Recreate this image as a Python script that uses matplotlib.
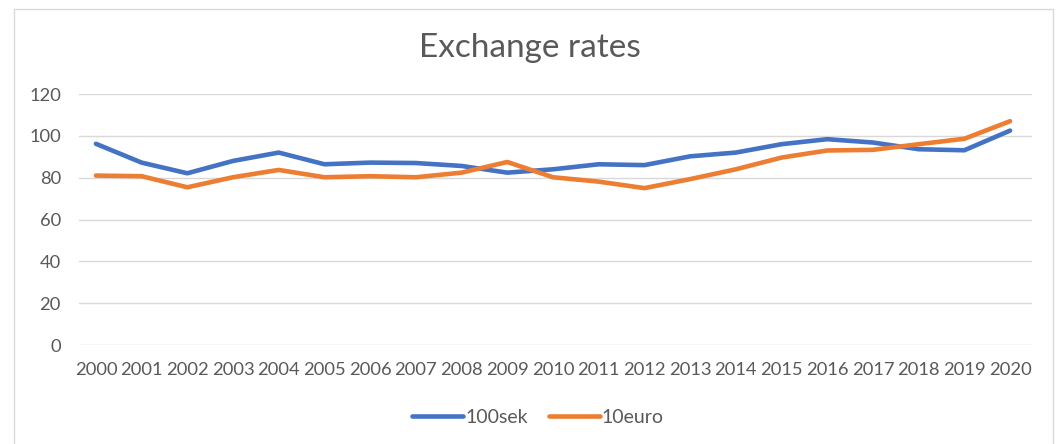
import matplotlib
matplotlib.use('Agg')
import matplotlib.pyplot as plt
from matplotlib.patches import Rectangle

plt.rcParams['font.family'] = ['Lato', 'DejaVu Sans']

years = [str(y) for y in range(2000, 2021)]
sek100 = [96.2, 87.2, 82.1, 88.0, 92.0, 86.4, 87.2, 87.0, 85.6, 82.4, 84.0,
          86.4, 86.0, 90.2, 92.0, 96.0, 98.4, 96.8, 93.6, 93.1, 102.5]
euro10 = [81.0, 80.7, 75.4, 80.2, 83.7, 80.2, 80.7, 80.2, 82.4, 87.5, 80.2,
          78.1, 75.0, 79.3, 84.0, 89.6, 93.0, 93.3, 96.0, 98.6, 107.0]
yticks = [0, 20, 40, 60, 80, 100, 120]

text_col = '#595959'
grid_col = '#D9D9D9'

W, H = 1059, 444
fig = plt.figure(figsize=(W / 100, H / 100), dpi=100)
ax = fig.add_axes([79 / W, (H - 345) / H, (1032 - 79) / W, (345 - 94) / H])

x = range(len(years))
ax.plot(x, sek100, color='#4472C4', lw=3.3, label='100sek', solid_capstyle='round')
ax.plot(x, euro10, color='#ED7D31', lw=3.3, label='10euro', solid_capstyle='round')

ax.set_xlim(-0.37, 20.48)
ax.set_ylim(0, 120)
ax.set_xticks(list(x))
ax.set_xticklabels(years)
ax.set_yticks(yticks)
ax.tick_params(length=0, labelsize=13.2, colors=text_col)
ax.tick_params(axis='x', pad=12)
ax.tick_params(axis='y', pad=13)
for s in ax.spines.values():
    s.set_visible(False)
ax.grid(axis='y', color=grid_col, lw=1)
ax.set_axisbelow(True)

fig.text(0.5, 1 - 48 / H, 'Exchange rates', ha='center', va='center',
         fontsize=24, color=text_col)

fig.legend(loc='center', bbox_to_anchor=(538 / W, 1 - 417 / H), ncol=2,
           frameon=False, fontsize=14, labelcolor=text_col, handlelength=2.6,
           handletextpad=0.1, columnspacing=1.1)

# chart border
fig.patches.append(Rectangle((14 / W, -0.1), (1053 - 14) / W, 1.1 - 9 / H,
                             transform=fig.transFigure, fill=False,
                             edgecolor=grid_col, lw=1))

fig.savefig('out.png', dpi=100)
